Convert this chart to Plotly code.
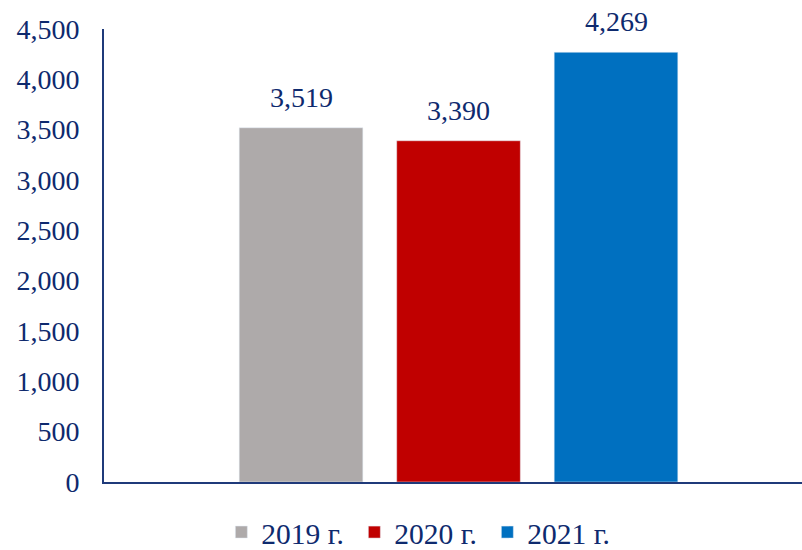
import plotly.graph_objects as go

years = ["2019 г.", "2020 г.", "2021 г."]
values = [3519, 3390, 4269]
colors = ["#AEAAAA", "#C00000", "#0070C0"]
y_ticks = [0, 500, 1000, 1500, 2000, 2500, 3000, 3500, 4000, 4500]

navy = "#0E2A6E"
font_family = "Liberation Serif, Times New Roman, serif"
fs = 28

fig = go.Figure()
for i, (yr, v, c) in enumerate(zip(years, values, colors)):
    fig.add_trace(go.Bar(
        x=[i], y=[v], name=yr, marker_color=c, width=0.785,
    ))
    fig.add_annotation(x=i, y=v, text=f"{v:,}", showarrow=False,
                       xref="x", yref="y", yanchor="bottom", yshift=13,
                       font=dict(family=font_family, size=fs, color=navy))

fig.update_layout(
    width=802, height=550,
    margin=dict(l=104, r=0, t=29, b=68),
    paper_bgcolor="white", plot_bgcolor="white",
    barmode="overlay",
    font=dict(family=font_family, size=fs, color=navy),
    showlegend=True,
    legend=dict(orientation="h", xref="container", yref="container",
                x=0.276, xanchor="left", y=0.032, yanchor="middle",
                font=dict(family=font_family, size=29.5, color=navy),
                entrywidth=88, entrywidthmode="pixels",
                itemwidth=30, traceorder="normal"),
    xaxis=dict(range=[-1.251, 3.181], showticklabels=False, showgrid=False,
               zeroline=False, showline=True, linecolor="#1F3A7A", linewidth=2,
               ticks="", automargin=False),
    yaxis=dict(range=[0, 4500], tickvals=y_ticks, tickformat=",", showgrid=False,
               zeroline=False, showline=True, linecolor="#1F3A7A", linewidth=2,
               ticks="", ticklabelstandoff=17, automargin=False,
               tickfont=dict(family=font_family, size=fs, color=navy)),
)

fig.write_html("out.html", config={"displayModeBar": False},
               post_script="document.body.style.margin='0px';")
